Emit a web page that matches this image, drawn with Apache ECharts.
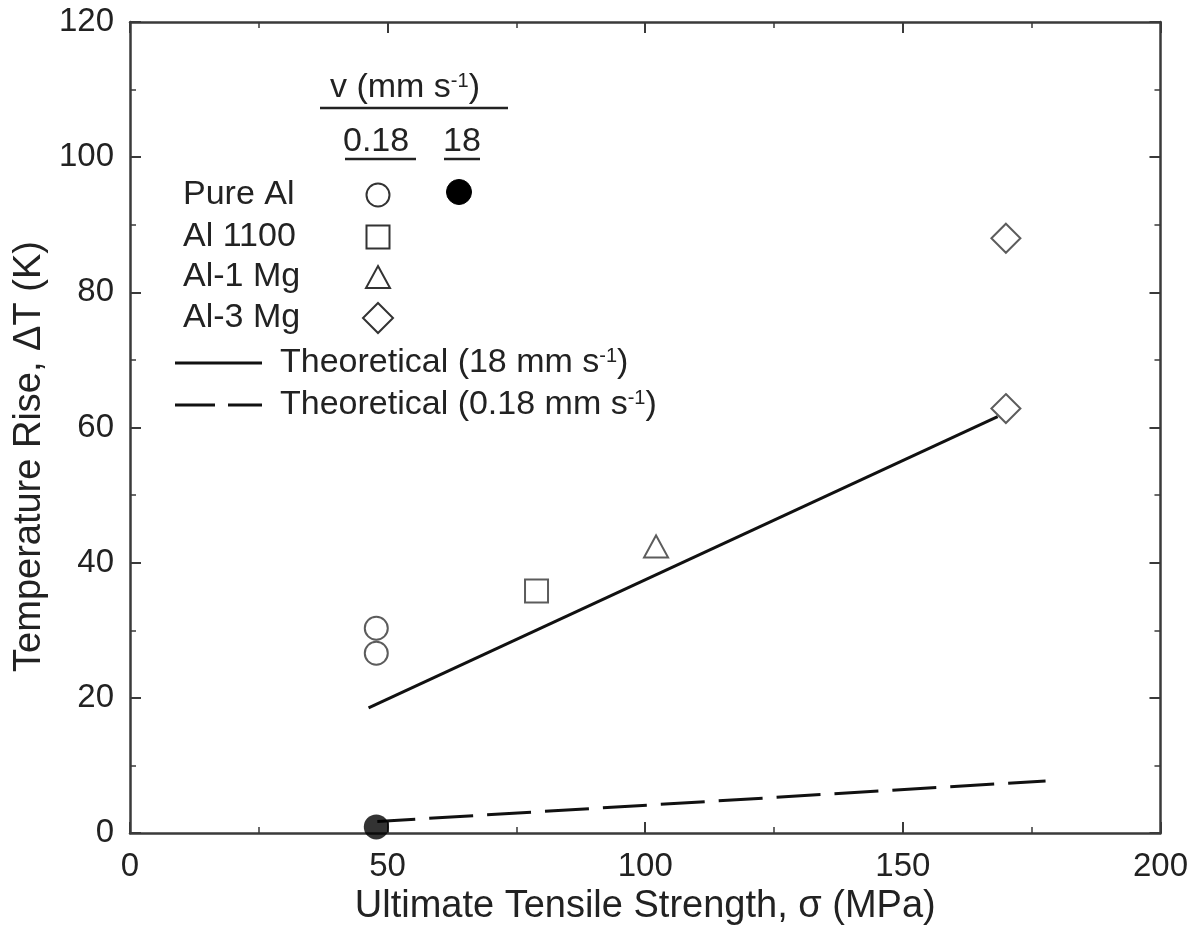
<!DOCTYPE html>
<html>
<head>
<meta charset="utf-8">
<script src="https://cdn.jsdelivr.net/npm/echarts@6/dist/echarts.min.js"></script>
<style>
html,body{margin:0;padding:0;background:#fff;}
#chart{width:1191px;height:946px;}
</style>
</head>
<body>
<div id="chart"></div>
<script>
// ---- data ----
const xTickLabels = [0, 50, 100, 150, 200];
const yTickLabels = [0, 20, 40, 60, 80, 100, 120];

const pureAl_v018 = [[47.8, 30.3], [47.8, 26.6]];
const pureAl_v18 = [[47.8, 0.9]];
const al1100_v018 = [[78.9, 35.8]];
const al1Mg_v018 = [[102.1, 42.4]];
const al3Mg_v018 = [[170.0, 88.0], [170.0, 62.8]];
const theory_v18 = [[46.3, 18.5], [168.4, 61.6]];
const theory_v018 = [[48.0, 1.7], [177.7, 7.7]];

const xTitle = 'Ultimate Tensile Strength, σ (MPa)';
const yTitle = 'Temperature Rise, ΔT (K)';

// ---- chart ----
const FONT = '"Liberation Sans", Arial, sans-serif';
const INK = '#222';
const AX = '#3a3a3a';
const LF = 34; // legend font size
const chart = echarts.init(document.getElementById('chart'), null, {renderer: 'canvas'});

const xMin = xTickLabels[0], xMax = xTickLabels[xTickLabels.length - 1];
const xInt = xTickLabels[1] - xTickLabels[0];
const yMin = yTickLabels[0], yMax = yTickLabels[yTickLabels.length - 1];
const yInt = yTickLabels[1] - yTickLabels[0];

function axisBase(show) {
  return {
    axisLine: {show: true, onZero: false, lineStyle: {color: AX, width: 2.5}},
    axisTick: {show: true, inside: true, length: 11, lineStyle: {color: AX, width: 2}},
    minorTick: {show: true, splitNumber: 2, length: 6, lineStyle: {color: AX, width: 1.5}},
    splitLine: {show: false},
    axisLabel: {show: show, color: INK, fontFamily: FONT, fontSize: 33}
  };
}

const openStyle = {color: '#fff', borderColor: '#333', borderWidth: 2};
const supRich = {sup: {fontSize: 20, fontFamily: FONT, fill: INK, verticalAlign: 'top'}};
function txt(x, y, s) {
  return {type: 'text', style: {x: x, y: y, text: s, fill: INK, font: LF + 'px ' + FONT, verticalAlign: 'middle', rich: supRich}};
}

const sw = 2;
const lx = 378;
const graphics = [
  // header
  txt(330, 88, 'v (mm s{sup|-1})'),
  {type: 'line', shape: {x1: 320, y1: 108, x2: 508, y2: 108}, style: {stroke: INK, lineWidth: 2.5}},
  txt(343, 142, '0.18'),
  {type: 'line', shape: {x1: 345, y1: 159, x2: 416, y2: 159}, style: {stroke: INK, lineWidth: 2.5}},
  txt(443, 142, '18'),
  {type: 'line', shape: {x1: 444, y1: 159, x2: 480, y2: 159}, style: {stroke: INK, lineWidth: 2.5}},
  // rows
  txt(183, 195, 'Pure Al'),
  txt(183, 237, 'Al 1100'),
  txt(183, 277, 'Al-1 Mg'),
  txt(183, 318, 'Al-3 Mg'),
  {type: 'circle', shape: {cx: lx, cy: 195, r: 11.5}, style: {fill: '#fff', stroke: '#333', lineWidth: sw}},
  {type: 'circle', shape: {cx: 459, cy: 192, r: 12.5}, style: {fill: '#000', stroke: '#000', lineWidth: 1}},
  {type: 'rect', shape: {x: lx - 11.5, y: 237 - 11.5, width: 23, height: 23}, style: {fill: '#fff', stroke: '#333', lineWidth: sw}},
  {type: 'polygon', shape: {points: [[lx, 266], [lx + 12, 288], [lx - 12, 288]]}, style: {fill: '#fff', stroke: '#333', lineWidth: sw}},
  {type: 'polygon', shape: {points: [[lx, 303], [lx + 15, 318], [lx, 333], [lx - 15, 318]]}, style: {fill: '#fff', stroke: '#333', lineWidth: sw}},
  // line keys
  {type: 'line', shape: {x1: 175, y1: 363, x2: 262, y2: 363}, style: {stroke: '#111', lineWidth: 3}},
  {type: 'line', shape: {x1: 175, y1: 405, x2: 215, y2: 405}, style: {stroke: '#111', lineWidth: 3}},
  {type: 'line', shape: {x1: 228, y1: 405, x2: 262, y2: 405}, style: {stroke: '#111', lineWidth: 3}},
  txt(280, 363, 'Theoretical (18 mm s{sup|-1})'),
  txt(280, 405, 'Theoretical (0.18 mm s{sup|-1})')
];

const option = {
  backgroundColor: '#fff',
  animation: false,
  grid: {left: 130, right: 29, top: 22, bottom: 113, containLabel: false},
  xAxis: [
    Object.assign(axisBase(true), {
      type: 'value', position: 'bottom', min: xMin, max: xMax, interval: xInt,
      name: xTitle, nameLocation: 'middle', nameGap: 50,
      nameTextStyle: {color: INK, fontFamily: FONT, fontSize: 38},
      axisLabel: {show: true, color: INK, fontFamily: FONT, fontSize: 33, margin: 17}
    }),
    Object.assign(axisBase(false), {
      type: 'value', position: 'top', min: xMin, max: xMax, interval: xInt
    })
  ],
  yAxis: [
    Object.assign(axisBase(true), {
      type: 'value', position: 'left', min: yMin, max: yMax, interval: yInt,
      name: yTitle, nameLocation: 'middle', nameGap: 68,
      nameTextStyle: {color: INK, fontFamily: FONT, fontSize: 38, padding: [0, 58, 0, 0]},
      axisLabel: {show: true, color: INK, fontFamily: FONT, fontSize: 33, margin: 16}
    }),
    Object.assign(axisBase(false), {
      type: 'value', position: 'right', min: yMin, max: yMax, interval: yInt
    })
  ],
  series: [
    {name: 'Theoretical (18 mm s-1)', type: 'line', data: theory_v18, symbol: 'none',
      lineStyle: {color: '#111', width: 3}, z: 2},
    {name: 'Theoretical (0.18 mm s-1)', type: 'line', data: theory_v018, symbol: 'none',
      lineStyle: {color: '#111', width: 3, type: [44, 14], dashOffset: 6}, z: 2},
    {name: 'Pure Al 0.18', type: 'scatter', data: pureAl_v018, symbol: 'circle', symbolSize: 23, itemStyle: openStyle, z: 3},
    {name: 'Pure Al 18', type: 'scatter', data: pureAl_v18, symbol: 'circle', symbolSize: 25, itemStyle: {color: '#000'}, z: 3},
    {name: 'Al 1100', type: 'scatter', data: al1100_v018, symbol: 'rect', symbolSize: 23, itemStyle: openStyle, z: 3},
    {name: 'Al-1 Mg', type: 'scatter', data: al1Mg_v018, symbol: 'triangle', symbolSize: [24, 22], itemStyle: openStyle, z: 3},
    {name: 'Al-3 Mg', type: 'scatter', data: al3Mg_v018, symbol: 'diamond', symbolSize: [29, 29], itemStyle: openStyle, z: 3}
  ],
  graphic: graphics
};
chart.setOption(option);
</script>
</body>
</html>
